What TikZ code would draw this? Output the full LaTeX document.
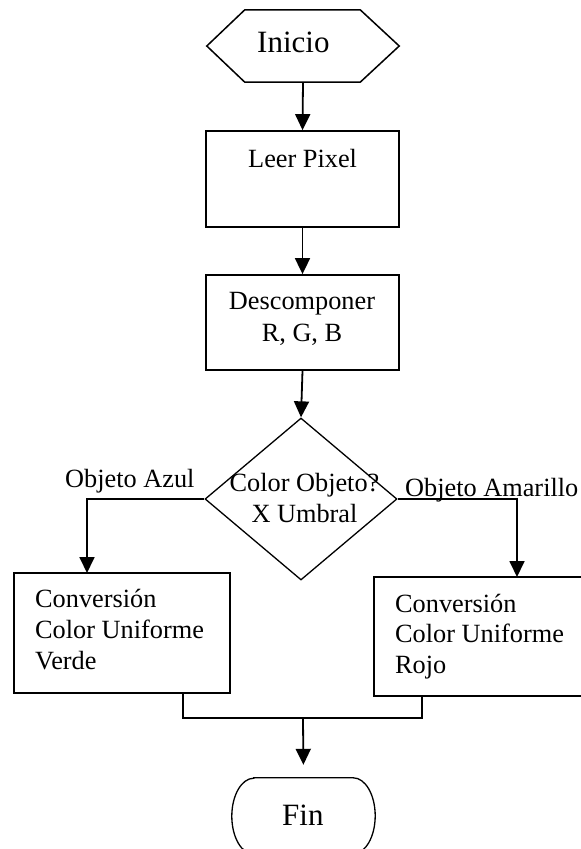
\documentclass[tikz,border=0pt]{standalone}
\usepackage{fontspec}
\setmainfont{Liberation Serif}
\usetikzlibrary{arrows.meta,shapes.geometric}
\begin{document}
\begin{tikzpicture}[x=1pt,y=-1pt,
  boxline/.style={line width=1.8pt},
  flowbox/.style={draw,boxline,rectangle,inner sep=0pt},
  anchorbox/.style={rectangle,inner sep=0pt},
  txt/.style={inner sep=0pt,font=\fontsize{26.3}{31}\selectfont},
  bigtxt/.style={inner sep=0pt,font=\fontsize{31}{37}\selectfont},
  flow/.style={line width=1.8pt,-{Triangle[length=16pt,width=15pt]}},
  link/.style={line width=1.8pt},
]
\useasboundingbox (0,0) rectangle (581,849);

% start terminal (hexagon)
\node[anchorbox,minimum width=192pt,minimum height=72pt] (inicio) at (303,46) {};
\draw[line width=1.5pt,line join=miter]
  (inicio.west) -- ([xshift=38pt]inicio.north west) -- ([xshift=-39pt]inicio.north east)
  -- (inicio.east) -- ([xshift=-39pt]inicio.south east) -- ([xshift=38pt]inicio.south west) -- cycle;
\node[bigtxt,anchor=base west] (tinicio) at (257,52) {Inicio};

% process boxes
\node[flowbox,minimum width=193pt,minimum height=96pt] (leer) at (302.5,179) {};
\node[txt,anchor=base west] (tleer) at (248,167) {Leer Pixel};

\node[flowbox,minimum width=193pt,minimum height=95pt] (desc) at (302.5,322.5) {};
% multi-line texts are placed by the baseline of their last line
\node[txt,anchor=base,align=center] (tdesc) at (302,341) {Descomponer\\[1pt]R, G, B};

% decision
\node[draw,diamond,line width=1.3pt,minimum width=192pt,minimum height=162pt,inner sep=0pt] (decide) at (301,499) {};
\node[txt,anchor=base,align=center] (tdec) at (304.5,522) {Color Objeto?\\X Umbral};

% branch boxes
\node[flowbox,minimum width=216pt,minimum height=120pt] (lbox) at (122,633) {};
\node[txt,anchor=base west,align=left] (tverde) at (35,669) {Conversión\\Color Uniforme\\Verde};

\node[flowbox,minimum width=230pt,minimum height=119pt] (rbox) at (489,636.5) {};
\node[txt,anchor=base west,align=left] (trojo) at (395,673) {Conversión\\[-0.5pt]Color Uniforme\\[-0.5pt]Rojo};

% end terminal (its lower edge runs past the page)
\node[anchorbox,minimum width=143pt,minimum height=76pt] (fin) at (303.5,816) {};
\draw[line width=1.3pt]
  ([xshift=22pt]fin.north west) -- ([xshift=-22pt]fin.north east)
  arc[start angle=90,end angle=-90,x radius=22pt,y radius=38pt]
  -- ([xshift=22pt]fin.south west)
  arc[start angle=270,end angle=90,x radius=22pt,y radius=38pt] -- cycle;
\node[bigtxt,anchor=base west] (tfin) at (282,825) {Fin};

% connector end points
\coordinate (ltop) at (87,573);
\coordinate (rtop) at (517,577);
\coordinate (lbot) at (183,693);
\coordinate (rbot) at (422,696);
\coordinate (mleft) at (183,718);
\coordinate (mright) at (422,718);
\coordinate (join) at (303,718);

% connectors
\draw[flow] (inicio.south) -- (leer.north);
\draw[flow] (leer.south) -- (desc.north);
\draw[flow] (desc.south) -- (decide.north);
\draw[flow] (decide.west) -| (ltop);
\draw[flow] (decide.east) -| (rtop);
\draw[link] (lbot) -- (mleft) -- (mright) -- (rbot);
\draw[flow,shorten >=13pt] (join) -- (fin.north);

% branch labels
\node[txt,anchor=base west] (tazul) at (65,487) {Objeto Azul};
\node[txt,anchor=base west] (tamar) at (405,496) {Objeto Amarillo};
\end{tikzpicture}
\end{document}
